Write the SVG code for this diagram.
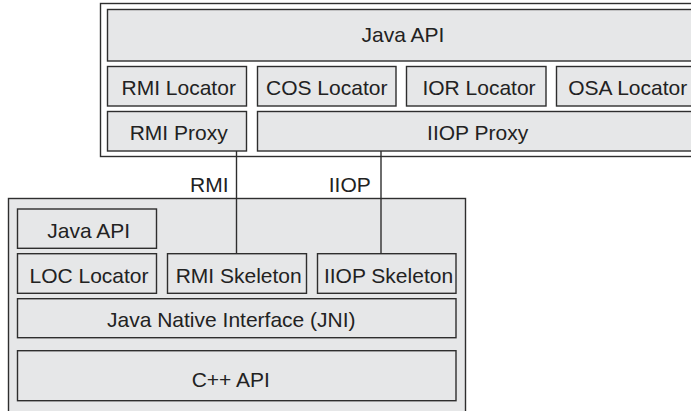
<svg xmlns="http://www.w3.org/2000/svg" width="691" height="411" viewBox="0 0 691 411">
<style>
.outer{fill:#ffffff;stroke:#2e2e2e;stroke-width:1.4}
.outerg{fill:#e6e7e8;stroke:#2e2e2e;stroke-width:1.4}
.box{fill:#e6e7e8;stroke:#2e2e2e;stroke-width:1.4}
.t{font-family:"Liberation Sans",Arial,sans-serif;font-size:21px;fill:#222222;text-anchor:middle}
.lbl{font-family:"Liberation Sans",Arial,sans-serif;font-size:21px;fill:#222222;text-anchor:end}
.conn{stroke:#2e2e2e;stroke-width:1.4;fill:none}
</style>
<rect width="691" height="411" fill="#ffffff"/>
<g id="client">
  <rect class="outer" x="100.5" y="3.5" width="600" height="153"/>
  <g id="client-java-api"><rect class="box" x="107.5" y="9.5" width="592" height="51.5"/><text class="t" x="403" y="42">Java API</text></g>
  <g id="rmi-locator"><rect class="box" x="107.5" y="66.5" width="139" height="39.5"/><text class="t" x="178.7" y="95">RMI Locator</text></g>
  <g id="cos-locator"><rect class="box" x="257.5" y="66.5" width="138.5" height="39.5"/><text class="t" x="326.7" y="95">COS Locator</text></g>
  <g id="ior-locator"><rect class="box" x="406.5" y="66.5" width="139.5" height="39.5"/><text class="t" x="479" y="95">IOR Locator</text></g>
  <g id="osa-locator"><rect class="box" x="556.5" y="66.5" width="143" height="39.5"/><text class="t" x="627.7" y="95">OSA Locator</text></g>
  <g id="rmi-proxy"><rect class="box" x="107.5" y="111.5" width="139" height="39.5"/><text class="t" x="178.7" y="140">RMI Proxy</text></g>
  <g id="iiop-proxy"><rect class="box" x="257.5" y="111.5" width="442" height="39.5"/><text class="t" x="477.7" y="140">IIOP Proxy</text></g>
</g>
<g id="server">
  <rect class="outerg" x="8.5" y="198.5" width="457" height="225"/>
  <g id="server-java-api"><rect class="box" x="17.5" y="209" width="139" height="39.3"/><text class="t" x="88.7" y="237.5">Java API</text></g>
  <g id="loc-locator"><rect class="box" x="17.5" y="253.7" width="139" height="39.6"/><text class="t" x="89" y="282.5">LOC Locator</text></g>
  <g id="rmi-skeleton"><rect class="box" x="167.5" y="253.7" width="139" height="39.6"/><text class="t" x="238.7" y="282.5">RMI Skeleton</text></g>
  <g id="iiop-skeleton"><rect class="box" x="317.5" y="253.7" width="138.5" height="39.6"/><text class="t" x="388.5" y="282.5">IIOP Skeleton</text></g>
  <g id="jni"><rect class="box" x="17.5" y="298.7" width="438.5" height="39"/><text class="t" x="231.3" y="326.7">Java Native Interface (JNI)</text></g>
  <g id="cpp-api"><rect class="box" x="17.5" y="350.7" width="438.5" height="50"/><text class="t" x="230.8" y="386.7">C++ API</text></g>
</g>
<g id="connectors">
  <line class="conn" x1="236.5" y1="151" x2="236.5" y2="253.7"/>
  <text class="lbl" x="228.5" y="191.7">RMI</text>
  <line class="conn" x1="381" y1="151" x2="381" y2="253.7"/>
  <text class="lbl" x="370.8" y="191.7">IIOP</text>
</g>
</svg>
